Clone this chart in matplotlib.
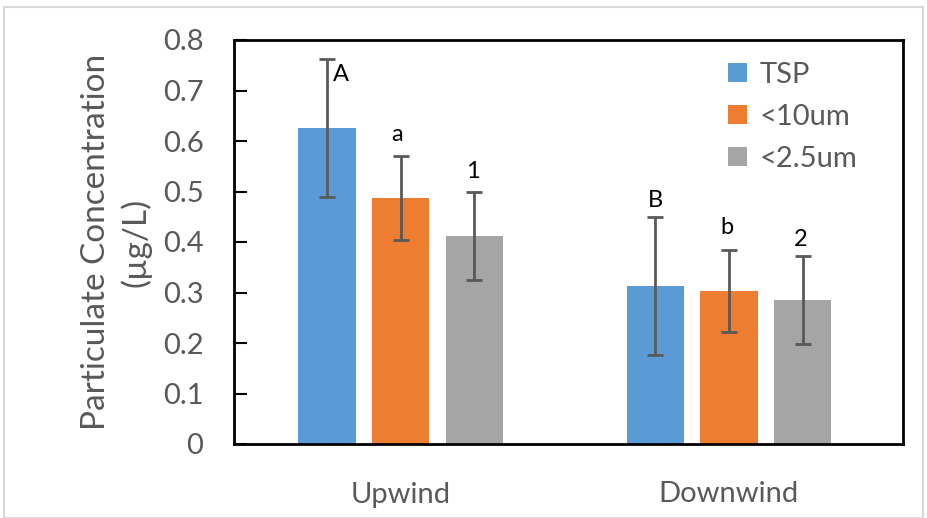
import matplotlib
matplotlib.use("Agg")
import matplotlib.pyplot as plt
import numpy as np
from matplotlib.patches import Rectangle

plt.rcParams['font.family'] = ['Lato', 'DejaVu Sans']

categories = ["Upwind", "Downwind"]
series = ["TSP", "<10um", "<2.5um"]
colors = ["#5b9bd5", "#ed7d31", "#a5a5a5"]
values = {
    "TSP": [0.626, 0.313],
    "<10um": [0.487, 0.303],
    "<2.5um": [0.412, 0.285],
}
errors = {
    "TSP": [0.136, 0.137],
    "<10um": [0.084, 0.082],
    "<2.5um": [0.087, 0.087],
}
letters = {
    "TSP": ["A", "B"],
    "<10um": ["a", "b"],
    "<2.5um": ["1", "2"],
}
letter_y = {
    "TSP": [0.731, 0.483],
    "<10um": [0.612, 0.428],
    "<2.5um": [0.539, 0.404],
}
letter_dx = {
    "TSP": [0.043, 0.0],
    "<10um": [-0.01, -0.005],
    "<2.5um": [-0.004, -0.007],
}
yticks = [0, 0.1, 0.2, 0.3, 0.4, 0.5, 0.6, 0.7, 0.8]

gray = "#595959"
fig = plt.figure(figsize=(9.27, 5.18), dpi=100)
ax = fig.add_axes([234/927, 1-444/518, (903-234)/927, (444-40)/518])

x = np.arange(len(categories))
width = 0.174
step = 0.224
for i, s in enumerate(series):
    pos = x + (i - 1) * step
    ax.bar(pos, values[s], width, color=colors[i], label=s, zorder=2)
    ax.errorbar(pos, values[s], yerr=errors[s], fmt='none', ecolor=gray,
                elinewidth=2, capsize=5.5, capthick=2, zorder=3)
    for j in range(len(categories)):
        ax.text(pos[j] + letter_dx[s][j], letter_y[s][j], letters[s][j],
                ha='center', va='center', fontsize=17, color='black')

ax.set_xlim(-0.507, 1.53)
ax.set_ylim(0, 0.8)
ax.set_yticks(yticks)
ax.set_yticklabels([f"{t:g}" for t in yticks])
ax.set_xticks(x)
ax.set_xticklabels(categories)
ax.tick_params(axis='y', direction='in', length=9, width=1.5, labelsize=21,
               labelcolor=gray, pad=22)
ax.tick_params(axis='x', length=0, labelsize=21, labelcolor=gray, pad=27)
for sp in ax.spines.values():
    sp.set_linewidth(2)
    sp.set_color('black')

ax.set_ylabel("Particulate Concentration\n(µg/L)", fontsize=24, color=gray,
              linespacing=1.35, labelpad=8)

leg = ax.legend(loc='upper left', bbox_to_anchor=(0.712, 0.99), frameon=False,
                fontsize=21, handlelength=0.65, handleheight=0.65,
                handletextpad=0.45, labelspacing=0.55, borderaxespad=0.2)
for t in leg.get_texts():
    t.set_color(gray)

fig.patches.append(Rectangle((4/927, 0.0), 1-8/927, 1-7/518, transform=fig.transFigure,
                             fill=False, edgecolor='#d9d9d9', linewidth=1.5))

fig.savefig("out.png", dpi=100)
